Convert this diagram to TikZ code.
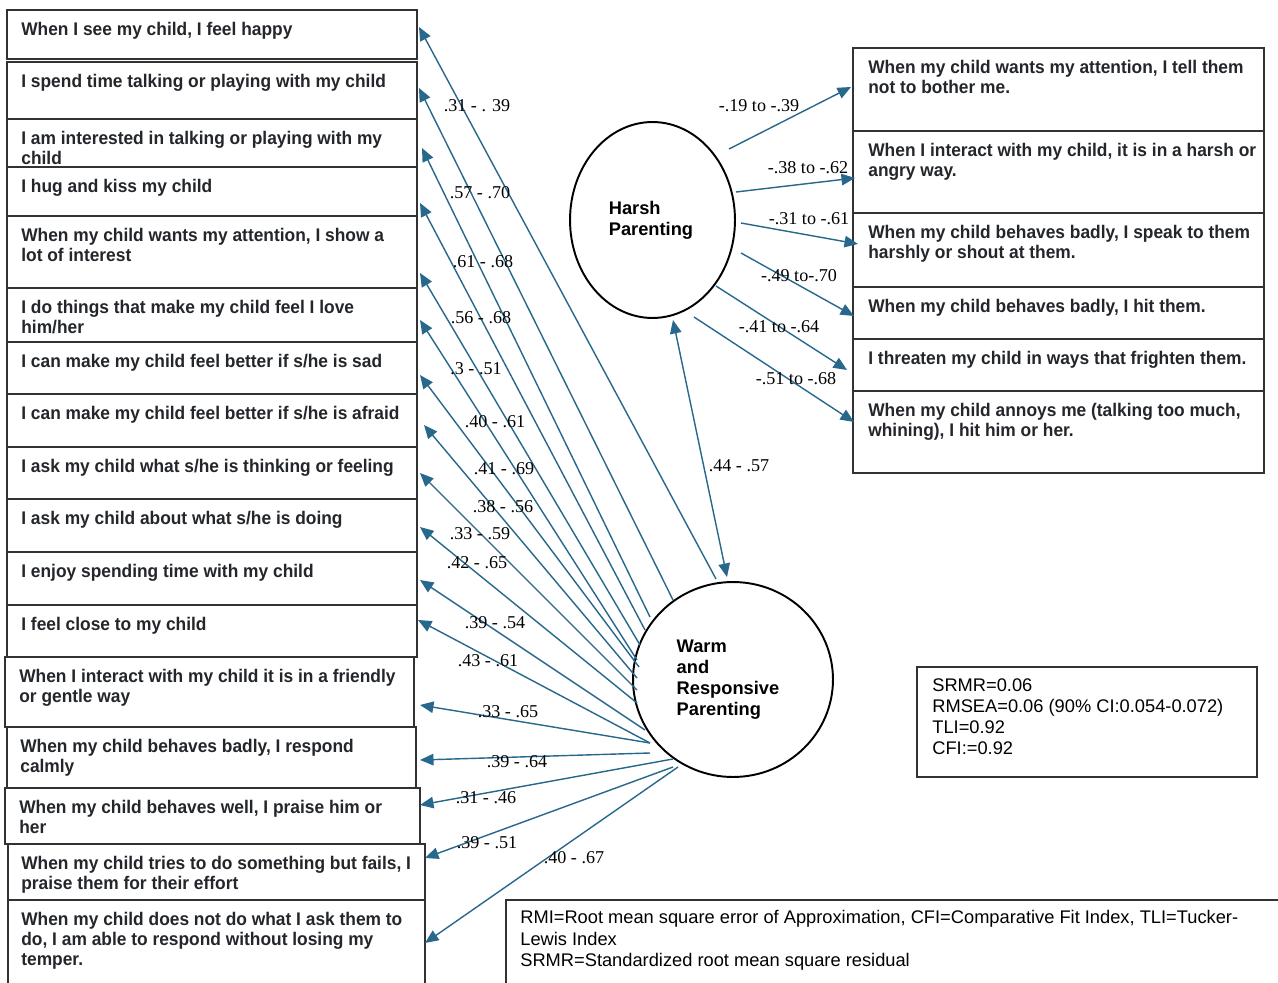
\documentclass[tikz,border=0pt]{standalone}
\usepackage{fontspec}
\usetikzlibrary{arrows.meta,calc,shapes.geometric}
\newfontfamily\itemfont[FakeStretch=0.95]{Liberation Sans}
\newfontfamily\statfont{Liberation Sans}
\newfontfamily\coeffont{Liberation Serif}
\definecolor{pathblue}{RGB}{40,104,140}
\definecolor{boxline}{RGB}{50,50,50}
\definecolor{itemink}{RGB}{35,38,42}
\tikzset{
  itembox/.style={draw=boxline,line width=0.7pt,anchor=north west,inner sep=0pt,outer sep=0pt},
  itemtext/.style={anchor=north west,inner sep=0pt,align=left,text=itemink,
    font=\itemfont\bfseries\fontsize{10.4}{11.4}\selectfont},
  latent/.style={draw,ellipse,line width=1.1pt,inner sep=0pt,outer sep=0pt,align=left,
    font=\statfont\bfseries\fontsize{10.4}{12}\selectfont},
  path/.style={draw=pathblue,line width=0.8pt,-{Triangle[length=2.7mm,width=2.3mm]}},
  coef/.style={inner sep=0pt,font=\coeffont\fontsize{10.3}{12}\selectfont},
  stattext/.style={anchor=north west,inner sep=0pt,align=left,font=\statfont\fontsize{10.4}{12}\selectfont}
}

\begin{document}
\begin{tikzpicture}[x=0.02cm,y=-0.02cm]
  \useasboundingbox (0,0) rectangle (1278,983);
  \fill[white] (0,0) rectangle (1278,983);

  % warm and responsive items
  \foreach \i/\l/\r/\t/\b/\tx/\txt in {
    1/7/417/10/59/21/{When I see my child, I feel happy},
    2/7/417/62/119/21/{I spend time talking or playing with my child},
    3/7/417/119/167/21/{I am interested in talking or playing with my\\child},
    4/7/417/167/216/21/{I hug and kiss my child},
    5/7/417/216/288/21/{When my child wants my attention, I show a\\lot of interest},
    6/7/417/288/342/21/{I do things that make my child feel I love\\him/her},
    7/7/417/342/394/21/{I can make my child feel better if s/he is sad},
    8/7/417/394/447/21/{I can make my child feel better if s/he is afraid},
    9/7/417/447/499/21/{I ask my child what s/he is thinking or feeling},
    10/7/417/499/552/21/{I ask my child about what s/he is doing},
    11/7/417/552/605/21/{I enjoy spending time with my child},
    12/7/417/605/657/21/{I feel close to my child},
    13/5/414/657/727/19/{When I interact with my child it is in a friendly\\or gentle way},
    14/7/416/727/788/20/{When my child behaves badly, I respond\\calmly},
    15/5/420/788/844/19/{When my child behaves well, I praise him or\\her},
    16/8/425/844/900/21/{When my child tries to do something but fails, I\\praise them for their effort},
    17/8/425/900/995/21/{When my child does not do what I ask them to\\do, I am able to respond without losing my\\temper.}} {
    \node[itembox,minimum width={(\r-\l)*0.02cm},minimum height={(\b-\t)*0.02cm}] (b\i) at (\l,\t) {};
    \node[itemtext] (t\i) at (\tx,\t+12) {\txt};
  }

  % harsh items
  \foreach \i/\t/\b/\txt in {
    1/48/131/{When my child wants my attention, I tell them\\not to bother me.},
    2/131/213/{When I interact with my child, it is in a harsh or\\angry way.},
    3/213/287/{When my child behaves badly, I speak to them\\harshly or shout at them.},
    4/287/339/{When my child behaves badly, I hit them.},
    5/339/391/{I threaten my child in ways that frighten them.},
    6/391/473/{When my child annoys me (talking too much,\\whining), I hit him or her.}} {
    \node[itembox,minimum width={411*0.02cm},minimum height={(\b-\t)*0.02cm}] (h\i) at (853,\t) {};
    \node[itemtext] (u\i) at (868,\t+12) {\txt};
  }

  % latent factors
  \node[latent,minimum width=3.3cm,minimum height=3.92cm] (harsh) at (652.5,220) {Harsh\\Parenting\hspace*{0.06cm}};
  \node[latent,minimum width=4cm,minimum height=3.9cm] (warm) at (733,679.5) {Warm\\and\\Responsive\kern0.2cm\null\\Parenting};

  % loadings warm
  \foreach \i/\dx/\dy/\sx/\sy in {
    1/2/17/716/579, 2/2/26/673/600, 3/5/29/650/617, 4/3/36/645/630,
    5/3/57/640/645, 6/3/32/637/660, 7/3/33/639/667, 8/7/31/637/678,
    9/3/26/637/690, 10/3/28/637/703, 11/3/28/645/730, 12/1/15/650/743,
    13/6/48/650/743, 14/4/33/650/753, 15/0/17/673/759, 16/0/14/673/767,
    17/0/43/678/767} {
    \coordinate (w\i) at (\sx,\sy);
    \draw[path] (w\i) -- ($(b\i.north east)+(\dx,\dy)$);
  }
  \foreach \i/\lx/\ly/\lab in {
    1/477/106/{.31 - . 39}, 2/480/193/{.57 - .70}, 3/483/262/{.61 - .68},
    4/481/318/{.56 - .68}, 5/476/369/{.3 - .51}, 6/495/422/{.40 - .61},
    7/504/469/{.41 - .69}, 8/503/507/{.38 - .56}, 9/480/534/{.33 - .59},
    10/477/563/{.42 - .65}, 11/495/623/{.39 - .54}, 12/488/661/{.43 - .61},
    13/508/712/{.33 - .65}, 14/517/762/{.39 - .64}, 15/486/798/{.31 - .46},
    16/487/843/{.39 - .51}, 17/574/858/{.40 - .67}} {
    \node[coef] (c\i) at (\lx,\ly) {\lab};
  }

  % loadings harsh
  \foreach \i/\dx/\dy/\sx/\sy in {
    1/-2/39/729/149, 2/2/47/736/192, 3/5/31/741/223,
    4/1/29/741/253, 5/-6/31/716/286, 6/1/31/694/317} {
    \coordinate (s\i) at (\sx,\sy);
    \draw[path] (s\i) -- ($(h\i.north west)+(\dx,\dy)$);
  }
  \foreach \i/\lx/\ly/\lab in {
    1/759/106/{-.19 to -.39}, 2/808/168/{-.38 to -.62}, 3/809/219/{-.31 to -.61},
    4/799/276/{-.49 to-.70}, 5/779/327/{-.41 to -.64}, 6/796/379/{-.51 to -.68}} {
    \node[coef] (d\i) at (\lx,\ly) {\lab};
  }

  % factor correlation
  \coordinate (ctop) at (673,320);
  \coordinate (cbot) at (727,577);
  \draw[path,{Triangle[length=2.7mm,width=2.3mm]}-{Triangle[length=2.7mm,width=2.3mm]}] (ctop) -- (cbot);
  \node[coef] (corr) at (739,466) {.44 - .57};

  % fit
  \node[itembox,minimum width=6.8cm,minimum height=2.2cm] (fit) at (917,667) {};
  \node[stattext] (fitinfo) at (932,678) {SRMR=0.06\\RMSEA=0.06 (90\% CI:0.054-0.072)\\TLI=0.92\\CFI:=0.92};
  \node[itembox,minimum width=16cm,minimum height=2cm] (notes) at (506,900) {};
  \node[stattext,font=\statfont\fontsize{10.4}{12.3}\selectfont] (notetext) at (520,910) {RMI=Root mean square error of Approximation, CFI=Comparative Fit Index, TLI=Tucker-\\Lewis Index\\SRMR=Standardized root mean square residual};
\end{tikzpicture}
\end{document}
